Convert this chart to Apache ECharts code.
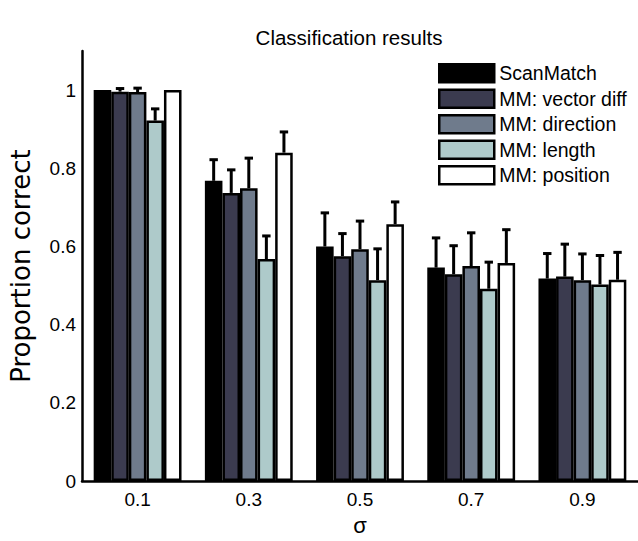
<!DOCTYPE html>
<html>
<head>
<meta charset="utf-8">
<script src="https://cdn.jsdelivr.net/npm/echarts@6/dist/echarts.min.js"></script>
<style>
html,body{margin:0;padding:0;background:#fff;}
#chart{width:638px;height:541px;}
</style>
</head>
<body>
<div id="chart"></div>
<script>
var categories = ['0.1', '0.3', '0.5', '0.7', '0.9'];
var seriesNames = ['ScanMatch', 'MM: vector diff', 'MM: direction', 'MM: length', 'MM: position'];
var scanMatch     = [1.000, 0.768, 0.600, 0.546, 0.518];
var scanMatchErr  = [0.000, 0.054, 0.086, 0.076, 0.064];
var vectorDiff    = [0.996, 0.737, 0.575, 0.529, 0.523];
var vectorDiffErr = [0.008, 0.059, 0.058, 0.073, 0.083];
var direction     = [0.995, 0.749, 0.593, 0.550, 0.514];
var directionErr  = [0.010, 0.077, 0.072, 0.085, 0.067];
var lengthVals    = [0.922, 0.568, 0.514, 0.492, 0.503];
var lengthErr     = [0.030, 0.059, 0.080, 0.068, 0.074];
var position      = [1.000, 0.840, 0.657, 0.558, 0.515];
var positionErr   = [0.000, 0.053, 0.057, 0.085, 0.070];
var yTicks = [0, 0.2, 0.4, 0.6, 0.8, 1];

var values = [scanMatch, vectorDiff, direction, lengthVals, position];
var errors = [scanMatchErr, vectorDiffErr, directionErr, lengthErr, positionErr];
var colors = ['#000000', '#3b3b4f', '#6f7b8c', '#aecaca', '#ffffff'];

var FONT = '"Liberation Sans", Arial, Helvetica, sans-serif';
var GROUP_FRAC = 0.79;
var N = seriesNames.length;

var barSeries = seriesNames.map(function (name, i) {
  return {
    name: name,
    type: 'bar',
    data: values[i],
    barGap: '0%',
    barCategoryGap: ((1 - GROUP_FRAC) * 100).toFixed(1) + '%',
    itemStyle: { color: colors[i], borderColor: '#000', borderWidth: 2.5 },
    emphasis: { disabled: true },
    z: 2
  };
});

var errData = [];
for (var s = 0; s < N; s++) {
  for (var c = 0; c < categories.length; c++) {
    if (errors[s][c] > 0) errData.push([c, values[s][c], errors[s][c], s]);
  }
}

var errSeries = {
  type: 'custom',
  name: 'err',
  data: errData,
  encode: { x: 0, y: 1 },
  z: 3,
  silent: true,
  renderItem: function (params, api) {
    var c = api.value(0), v = api.value(1), e = api.value(2), s = api.value(3);
    var band = api.size([1, 0])[0];
    var bw = band * GROUP_FRAC / N;
    var center = api.coord([c, v]);
    var x = center[0] + (s - (N - 1) / 2) * bw;
    var yTop = api.coord([c, v + e])[1];
    var yBase = center[1];
    var cap = 4.2;
    var style = { stroke: '#000', lineWidth: 3, fill: null };
    return {
      type: 'group',
      children: [
        { type: 'line', shape: { x1: x, y1: yBase, x2: x, y2: yTop }, style: style },
        { type: 'line', shape: { x1: x - cap, y1: yTop, x2: x + cap, y2: yTop }, style: style }
      ]
    };
  }
};

var chart = echarts.init(document.getElementById('chart'), null, { renderer: 'svg' });
chart.setOption({
  animation: false,
  backgroundColor: '#fff',
  textStyle: { fontFamily: FONT, color: '#000' },
  title: {
    text: 'Classification results',
    left: 344,
    top: 22,
    textAlign: 'center',
    textStyle: { fontFamily: FONT, fontSize: 20.5, fontWeight: 'normal', color: '#000' }
  },
  legend: {
    data: seriesNames,
    orient: 'vertical',
    left: 433,
    top: 58,
    itemWidth: 55,
    itemHeight: 18,
    itemGap: 5,
    icon: 'rect',
    selectedMode: false,
    itemStyle: { borderColor: '#000', borderWidth: 2.5 },
    textStyle: { fontFamily: FONT, fontSize: 19.5, lineHeight: 20, color: '#000' }
  },
  grid: { left: 82, top: 51, width: 562, height: 441, containLabel: false },
  xAxis: {
    type: 'category',
    data: categories,
    axisLine: { show: true, lineStyle: { color: '#000', width: 2.5 } },
    axisTick: { show: false },
    axisLabel: { fontFamily: FONT, fontSize: 19, color: '#000', margin: 9 },
    name: 'σ',
    nameLocation: 'middle',
    nameGap: 28,
    nameTextStyle: { fontFamily: FONT, fontSize: 22, color: '#000' },
    splitLine: { show: false }
  },
  yAxis: {
    type: 'value',
    min: 0,
    max: 1.1,
    interval: 0.2,
    axisLine: { show: true, lineStyle: { color: '#000', width: 2.5 } },
    axisTick: { show: false },
    splitLine: { show: false },
    axisLabel: {
      fontFamily: FONT, fontSize: 19, color: '#000', margin: 6,
      showMaxLabel: false,
      formatter: function (v) {
        for (var i = 0; i < yTicks.length; i++) {
          if (Math.abs(yTicks[i] - v) < 1e-6) return String(yTicks[i]);
        }
        return '';
      }
    },
    name: 'Proportion correct',
    nameLocation: 'middle',
    nameGap: 48,
    nameTextStyle: { fontFamily: '"DejaVu Sans", ' + FONT, fontSize: 26, color: '#000' }
  },
  series: barSeries.concat([errSeries])
});
</script>
</body>
</html>
